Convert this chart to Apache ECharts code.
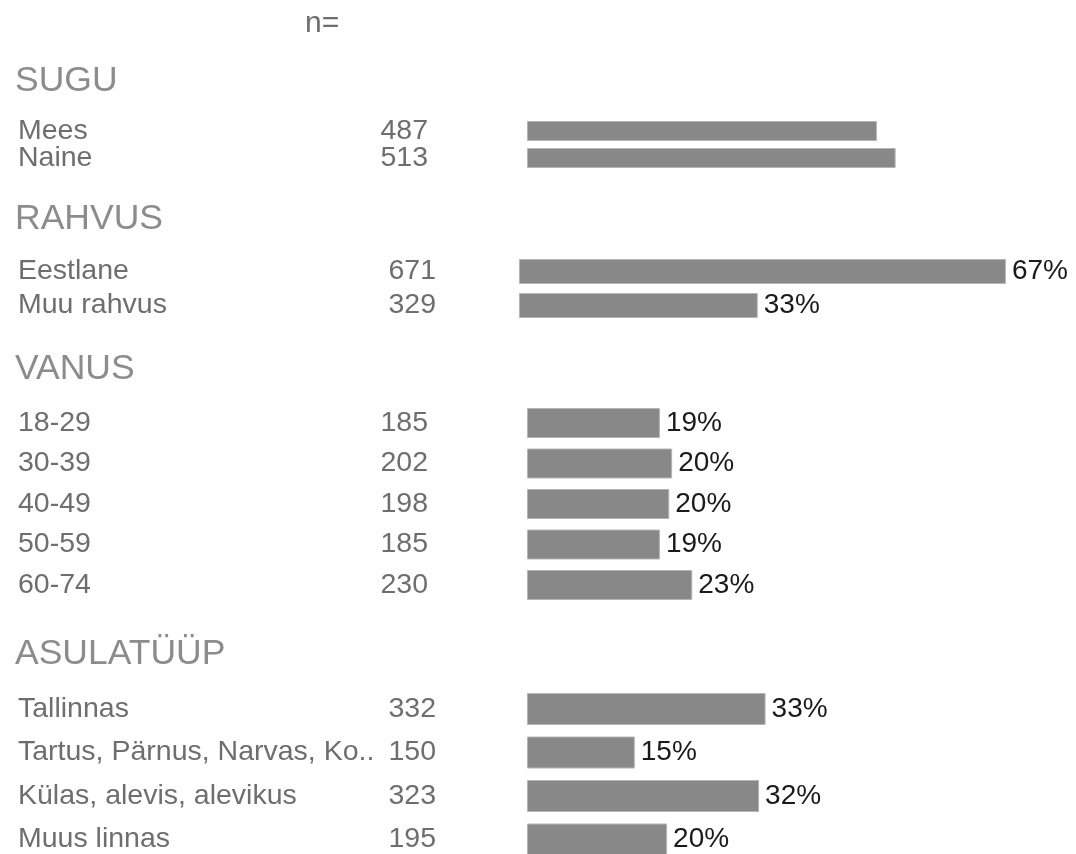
<!DOCTYPE html>
<html>
<head>
<meta charset="utf-8">
<script src="https://cdn.jsdelivr.net/npm/echarts@6/dist/echarts.min.js"></script>
<style>
  html, body { margin: 0; padding: 0; background: #fff; }
  #chart { width: 1076px; height: 854px; }
</style>
</head>
<body>
<div id="chart"></div>
<script>
// data
const suguCats = ['Mees', 'Naine']
const suguN = [487, 513]
const suguPct = [48.7, 51.3]

const rahvusCats = ['Eestlane', 'Muu rahvus']
const rahvusN = [671, 329]
const rahvusPct = [67.1, 32.9]

const vanusCats = ['18-29', '30-39', '40-49', '50-59', '60-74']
const vanusN = [185, 202, 198, 185, 230]
const vanusPct = [18.5, 20.2, 19.8, 18.5, 23.0]

const asulaCats = ['Tallinnas', 'Tartus, Pärnus, Narvas, Ko..', 'Külas, alevis, alevikus', 'Muus linnas']
const asulaN = [332, 150, 323, 195]
const asulaPct = [33.2, 15.0, 32.3, 19.5]

const FONT = '"Liberation Sans", Arial, sans-serif'
const LABEL_COLOR = '#6e6e6e'
const TITLE_COLOR = '#8c8c8c'
const BAR_COLOR = '#888888'
const MAX = 70

// layout of each block: top = first row centre, height = distance to last row centre
const blocks = [
  { title: 'SUGU', titleTop: 63, cats: suguCats, n: suguN, pct: suguPct, top: 131, height: 27, left: 527, width: 503, bar: 20, nRight: 428, showPct: false },
  { title: 'RAHVUS', titleTop: 201, cats: rahvusCats, n: rahvusN, pct: rahvusPct, top: 271.5, height: 34, left: 519, width: 508, bar: 25, nRight: 436, showPct: true },
  { title: 'VANUS', titleTop: 351, cats: vanusCats, n: vanusN, pct: vanusPct, top: 423, height: 162, left: 527, width: 503, bar: 30, nRight: 428, showPct: true },
  { title: 'ASULATÜÜP', titleTop: 636, cats: asulaCats, n: asulaN, pct: asulaPct, top: 709, height: 132, left: 527, width: 503, bar: 32, nRight: 436, showPct: true }
]

const grid = []
const xAxis = []
const yAxis = []
const series = []
const title = [{
  text: 'n=',
  left: 305,
  top: 9,
  padding: 0,
  textStyle: { fontFamily: FONT, fontSize: 30, fontWeight: 'normal', color: LABEL_COLOR }
}]

blocks.forEach((b, i) => {
  title.push({
    text: b.title,
    left: 15,
    top: b.titleTop,
    padding: 0,
    textStyle: { fontFamily: FONT, fontSize: 35.5, fontWeight: 'normal', color: TITLE_COLOR }
  })
  grid.push({ left: b.left, top: b.top, width: b.width, height: b.height, containLabel: false })
  xAxis.push({
    type: 'value',
    gridIndex: i,
    min: 0,
    max: MAX,
    show: false
  })
  // category names
  yAxis.push({
    type: 'category',
    gridIndex: i,
    data: b.cats,
    inverse: true,
    boundaryGap: false,
    position: 'left',
    axisLine: { show: false },
    axisTick: { show: false },
    splitLine: { show: false },
    axisLabel: {
      interval: 0,
      hideOverlap: false,
      align: 'left',
      margin: b.left - 18,
      fontFamily: FONT,
      fontSize: 28.5,
      color: LABEL_COLOR
    }
  })
  // n= column
  yAxis.push({
    type: 'category',
    gridIndex: i,
    data: b.n.map(String),
    inverse: true,
    boundaryGap: false,
    position: 'left',
    axisLine: { show: false },
    axisTick: { show: false },
    splitLine: { show: false },
    axisLabel: {
      interval: 0,
      hideOverlap: false,
      align: 'right',
      margin: b.left - b.nRight,
      fontFamily: FONT,
      fontSize: 28.5,
      color: LABEL_COLOR
    }
  })
  series.push({
    type: 'bar',
    xAxisIndex: i,
    yAxisIndex: i * 2,
    data: b.pct,
    barWidth: b.bar,
    silent: true,
    itemStyle: { color: BAR_COLOR, borderColor: '#b5b5b5', borderWidth: 1 },
    label: {
      show: b.showPct,
      position: 'right',
      distance: 6,
      fontFamily: FONT,
      fontSize: 28,
      color: '#1a1a1a',
      formatter: p => Math.round(p.value) + '%'
    }
  })
})

const chart = echarts.init(document.getElementById('chart'), null, { renderer: 'canvas' })
chart.setOption({
  animation: false,
  backgroundColor: '#ffffff',
  title,
  grid,
  xAxis,
  yAxis,
  series
})
</script>
</body>
</html>
